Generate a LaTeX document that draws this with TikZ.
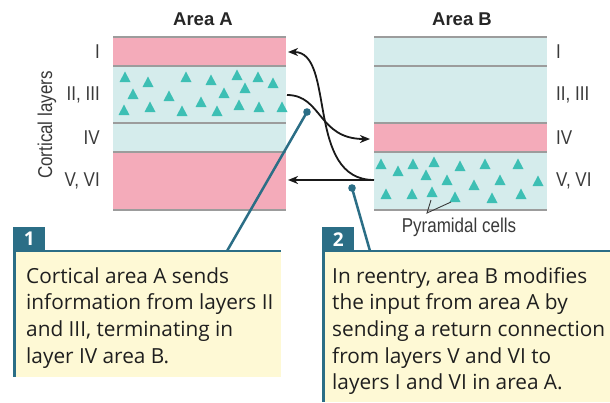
\documentclass[tikz,border=0pt]{standalone}
\usepackage{fontspec}
\setmainfont{Open Sans}
\newfontfamily\condfont[FakeStretch=0.85]{Liberation Sans}
\newfontfamily\headfont{Liberation Sans}
\usetikzlibrary{arrows.meta}
\definecolor{pinkL}{HTML}{F4ABBA}
\definecolor{cyanL}{HTML}{D5ECEC}
\definecolor{tricol}{HTML}{3DBFB4}
\definecolor{sepcol}{HTML}{9C9C9C}
\definecolor{tealD}{HTML}{2B6E86}
\definecolor{noteY}{HTML}{FEF9D5}
\definecolor{labcol}{HTML}{3A3A3A}
\tikzset{
  layerlab/.style={font=\condfont\fontsize{20}{22}\selectfont, text=labcol, inner sep=0},
  head/.style={font=\headfont\bfseries\fontsize{18.5}{20}\selectfont, text=black!85, inner sep=0},
  sep/.style={draw=sepcol, line width=1.5pt},
  conn/.style={draw=black!90, line width=1.8pt, -{Stealth[length=10pt,width=8pt,inset=3pt]}},
  pointer/.style={draw=tealD, line width=2.5pt},
  tabbox/.style={fill=tealD, text=white, font=\bfseries\fontsize{19}{20}\selectfont, inner sep=0, minimum width=32pt, minimum height=24pt, anchor=north west},
  notetext/.style={font=\fontsize{20.8}{26.7}\selectfont, text=black!88, align=left, inner sep=0, anchor=north west},
  trimark/.style={fill=tricol}
}
\newcommand{\pyr}[2]{\fill[trimark] ({#1-5.5},{#2+5}) -- ({#1+5.5},{#2+5}) -- ({#1},{#2-5.5}) -- cycle;}
\begin{document}
\begin{tikzpicture}[x=1pt,y=-1pt]
\useasboundingbox (0,0) rectangle (610,402);
\fill[white] (0,0) rectangle (610,402);

% ---- Area A layers
\fill[pinkL] (113,37) rectangle (286,66);
\fill[cyanL] (113,66) rectangle (286,152);
\fill[pinkL] (113,152) rectangle (286,210);
\foreach \yy in {37,66,123,152,210} \draw[sep] (113,\yy) -- (286,\yy);
% ---- Area B layers
\fill[cyanL] (374,37) rectangle (547,123);
\fill[pinkL] (374,123) rectangle (547,152);
\fill[cyanL] (374,152) rectangle (547,210);
\foreach \yy in {37,66,123,152,210} \draw[sep] (374,\yy) -- (547,\yy);

% ---- pyramidal cells area A
\foreach \px/\py in {125/77,148/82,186/77,211/80,237/75,258/77,273/83,133/94,169/96,224/93,245/88,124/110,150/107,182/111,201/102,217/111,239/105,259/107,282/107}
  {\pyr{\px}{\py}}
% ---- pyramidal cells area B
\foreach \px/\py in {381/164,398/171,413/164,434/162,460/166,485/164,518/164,426/175,447/180,474/185,500/180,538/181,386/194,412/194,432/192,455/197,492/198,521/194}
  {\pyr{\px}{\py}}

% ---- headings
\node[head] (hA) at (203,19) {Area A};
\node[head] (hB) at (462,19) {Area B};

% ---- layer labels
\node[layerlab, anchor=east] (lA1) at (100,52) {I};
\node[layerlab, anchor=east] (lA2) at (100,95) {II, III};
\node[layerlab, anchor=east] (lA4) at (100,138) {IV};
\node[layerlab, anchor=east] (lA5) at (100,181) {V, VI};
\node[layerlab, anchor=west] (lB1) at (556,52) {I};
\node[layerlab, anchor=west] (lB2) at (556,95) {II, III};
\node[layerlab, anchor=west] (lB4) at (556,138) {IV};
\node[layerlab, anchor=west] (lB5) at (556,181) {V, VI};
\node[layerlab, rotate=90] (cl) at (47,125) {Cortical layers};

% ---- Pyramidal cells label
\node[layerlab] (pc) at (459,227) {Pyramidal cells};
\coordinate (pcv) at (427,213);
\coordinate (pct1) at (431,200);
\coordinate (pct2) at (451,202);
\draw[labcol, line width=0.9pt] (pct1) -- (pcv) -- (pct2);

% ---- connection arrows
\coordinate (aOut) at (287,95);
\coordinate (bIn) at (370,139);
\coordinate (bOut) at (374,180);
\coordinate (aIn1) at (288,52);
\coordinate (aIn5) at (288,180);
\draw[conn] (aOut) .. controls (322,95) and (318,139) .. (bIn);
\draw[conn] (bOut) .. controls (305,180) and (336,52) .. (aIn1);
\draw[conn] (bOut) -- (aIn5);

% ---- note boxes
\fill[noteY] (13,251) rectangle (281,377);
\draw[tealD, line width=2.2pt] (13,251) -- (281,251);
\draw[tealD, line width=2.5pt] (14.3,251) -- (14.3,377);
\node[tabbox] (t1) at (13,227) {1};

\fill[noteY] (322,251) rectangle (610,402);
\draw[tealD, line width=2.2pt] (322,251) -- (610,251);
\draw[tealD, line width=2.5pt] (323.3,251) -- (323.3,402);
\node[tabbox] (t2) at (322,227) {2};

\node[notetext] (n1) at (26,267) {Cortical area A sends\\information from layers II\\and III, terminating in\\layer IV area B.};
\node[notetext] (n2) at (332,267) {In reentry, area B modifies\\the input from area A by\\sending a return connection\\from layers V and VI to\\layers I and VI in area A.};

% ---- pointers
\coordinate (p1) at (307,112);
\coordinate (p1e) at (227,251);
\coordinate (p2) at (352,188);
\coordinate (p2e) at (370,251);
\draw[pointer] (p1) -- (p1e);
\draw[pointer] (p2) -- (p2e);
\fill[tealD] (p1) circle (3.8);
\fill[tealD] (p2) circle (3.8);
\end{tikzpicture}
\end{document}
